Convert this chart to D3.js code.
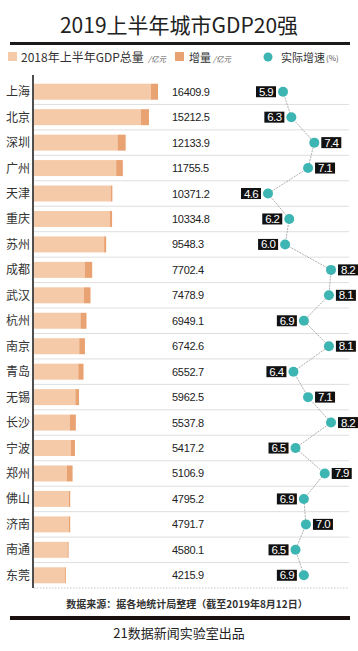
<!DOCTYPE html>
<html><head><meta charset="utf-8">
<script src="https://cdn.jsdelivr.net/npm/d3@7/dist/d3.min.js"></script>
<style>
html,body{margin:0;padding:0;background:#fff;}
svg{display:block;}
</style></head>
<body>
<svg id="chart" width="358" height="651"></svg>
<script>
const cities = ["上海","北京","深圳","广州","天津","重庆","苏州","成都","武汉","杭州","南京","青岛","无锡","长沙","宁波","郑州","佛山","济南","南通","东莞"];
const gdp2019 = [16409.9,15212.5,12133.9,11755.5,10371.2,10334.8,9548.3,7702.4,7478.9,6949.1,6742.6,6552.7,5962.5,5537.8,5417.2,5106.9,4795.2,4791.7,4580.1,4215.9];
const increment = [930,1050,1080,880,230,280,270,980,890,800,760,700,490,800,550,760,180,170,150,150];
const growth = [5.9,6.3,7.4,7.1,4.6,6.2,6.0,8.2,8.1,6.9,8.1,6.4,7.1,8.2,6.5,7.9,6.9,7.0,6.5,6.9];
const titleText = "2019上半年城市GDP20强";
const legendLabels = ["2018年上半年GDP总量","增量","实际增速"];
const legendUnits = ["/亿元","/亿元","(%)"];
const sourceText = "数据来源：据各地统计局整理（截至2019年8月12日）";
const creditText = "21数据新闻实验室出品";

const CJK = "'Noto Sans CJK SC','Noto Sans',sans-serif";
const NUM = "'Liberation Sans',Arial,'Noto Sans CJK SC',sans-serif";
const lightC = "#F5CAA9", darkC = "#E9A271", teal = "#3DB5B2";

const svg = d3.select("#chart");
svg.append("rect").attr("width",358).attr("height",651).attr("fill","#fff");

// title
svg.append("text").attr("x",179).attr("y",33).attr("text-anchor","middle")
  .attr("font-family",CJK).attr("font-size",21).attr("fill","#222").text(titleText);
svg.append("rect").attr("x",10).attr("y",42).attr("width",340).attr("height",3).attr("fill","#1a1a1a");

// legend
const lg = svg.append("g").attr("font-family",CJK);
lg.append("rect").attr("x",8).attr("y",52).attr("width",9).attr("height",9).attr("fill",lightC);
lg.append("text").attr("x",21).attr("y",61.5).attr("font-size",12).attr("fill","#333").text(legendLabels[0]);
lg.append("text").attr("x",148).attr("y",61.5).attr("font-size",7.5).attr("font-style","italic").attr("fill","#555").text(legendUnits[0]);
lg.append("rect").attr("x",175).attr("y",52).attr("width",9).attr("height",9).attr("fill",darkC);
lg.append("text").attr("x",189).attr("y",61.5).attr("font-size",11).attr("fill","#333").text(legendLabels[1]);
lg.append("text").attr("x",213).attr("y",61.5).attr("font-size",7.5).attr("font-style","italic").attr("fill","#555").text(legendUnits[1]);
lg.append("circle").attr("cx",268).attr("cy",57).attr("r",4.5).attr("fill",teal);
lg.append("text").attr("x",281).attr("y",61.5).attr("font-size",11).attr("fill","#333").text(legendLabels[2]);
lg.append("text").attr("x",326).attr("y",61).attr("font-size",8).attr("fill","#555").text(legendUnits[2]);

// scales
const y = d3.scaleBand().domain(cities).range([79,588]);
const x = d3.scaleLinear().domain([0,16409.9]).range([34,158]);
const gx = d3.scaleLinear().domain([4.6,5.9,8.2]).range([268,283,331]);
const bw = y.bandwidth();
const barH = 16;
const cy = d => y(d) + bw/2;

// gridlines (row boundaries)
svg.append("g").selectAll("line").data(cities.slice(1)).join("line")
  .attr("x1",34).attr("x2",349).attr("y1",d=>y(d)).attr("y2",d=>y(d))
  .attr("stroke","#d6d6d6").attr("stroke-width",0.8);
svg.append("line").attr("x1",34).attr("x2",349).attr("y1",588).attr("y2",588)
  .attr("stroke","#bbb").attr("stroke-width",0.8).attr("stroke-dasharray","1.5,1.5");

// bars
const rows = cities.map((c,i)=>({c, v:gdp2019[i], inc:increment[i], g:growth[i]}));
svg.append("g").selectAll("rect").data(rows).join("rect")
  .attr("x",x(0)).attr("y",d=>cy(d.c)-barH/2).attr("width",d=>x(d.v-d.inc)-x(0)).attr("height",barH)
  .attr("fill",lightC);
svg.append("g").selectAll("rect").data(rows).join("rect")
  .attr("x",d=>x(d.v-d.inc)).attr("y",d=>cy(d.c)-barH/2).attr("width",d=>x(d.v)-x(d.v-d.inc)).attr("height",barH)
  .attr("fill",darkC);

// axis line
svg.append("line").attr("x1",33).attr("x2",33).attr("y1",75).attr("y2",588)
  .attr("stroke","#222").attr("stroke-width",1.6);

// city labels
svg.append("g").selectAll("text").data(rows).join("text")
  .attr("x",30).attr("y",d=>cy(d.c)+4.5).attr("text-anchor","end")
  .attr("font-family",CJK).attr("font-size",12).attr("fill","#333").text(d=>d.c);

// values
const fmt = d3.format(".1f");
svg.append("g").selectAll("text").data(rows).join("text")
  .attr("x",172).attr("y",d=>cy(d.c)+4).attr("font-family",NUM).attr("font-size",11)
  .attr("fill","#222").attr("letter-spacing",-0.3).text(d=>fmt(d.v));

// growth line
const line = d3.line().x(d=>gx(d.g)).y(d=>cy(d.c));
svg.append("path").datum(rows).attr("d",line).attr("fill","none")
  .attr("stroke","#999").attr("stroke-width",0.8).attr("stroke-dasharray","2,1");

// labels
const bxW = 20, bxH = 11, gap = 7;
const lab = svg.append("g").selectAll("g").data(rows).join("g");
lab.append("rect")
  .attr("x",d=> d.g>=7 ? gx(d.g)+gap : gx(d.g)-gap-bxW)
  .attr("y",d=>cy(d.c)-bxH/2).attr("width",bxW).attr("height",bxH).attr("fill","#111");
lab.append("text")
  .attr("x",d=> d.g>=7 ? gx(d.g)+gap+bxW/2 : gx(d.g)-gap-bxW/2)
  .attr("y",d=>cy(d.c)+4).attr("text-anchor","middle")
  .attr("font-family",NUM).attr("font-size",11.5).attr("fill","#fff").attr("letter-spacing",-0.6)
  .text(d=>fmt(d.g));

// dots
svg.append("g").selectAll("circle").data(rows).join("circle")
  .attr("cx",d=>gx(d.g)).attr("cy",d=>cy(d.c)).attr("r",5).attr("fill",teal);

// footer
svg.append("text").attr("x",187).attr("y",608).attr("text-anchor","middle")
  .attr("font-family",CJK).attr("font-size",10).attr("font-weight",700).attr("fill","#333").text(sourceText);
svg.append("rect").attr("x",10).attr("y",616).attr("width",340).attr("height",4).attr("fill","#1a1010");
svg.append("text").attr("x",179).attr("y",638).attr("text-anchor","middle")
  .attr("font-family",CJK).attr("font-size",13).attr("fill","#222").text(creditText);
</script>
</body></html>
